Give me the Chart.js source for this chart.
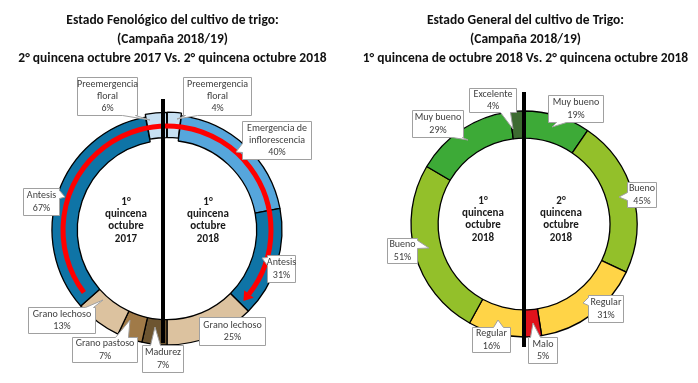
<!DOCTYPE html>
<html>
<head>
<meta charset="utf-8">
<script src="https://cdn.jsdelivr.net/npm/chart.js@4"></script>
<style>
  html, body { margin: 0; padding: 0; background: #fff; }
  body { width: 698px; height: 383px; position: relative; overflow: hidden; }
  canvas { position: absolute; top: 0; }
  .title { position: absolute; top: 10px; width: 349px; text-align: center;
           font-family: Carlito, Lato, "Liberation Sans", sans-serif; font-weight: bold;
           font-size: 13.5px; line-height: 19px; color: #111; z-index: 2; white-space: nowrap; }
</style>
</head>
<body>
<div class="title" id="t1" style="left:-2px"></div>
<div class="title" id="t2" style="left:351px"></div>
<canvas id="c1" width="349" height="383" style="left:0"></canvas>
<canvas id="c2" width="349" height="383" style="left:349px"></canvas>
<script>
// ---------- DATA ----------
const titleFeno = ['Estado Fenológico del cultivo de trigo:', '(Campaña 2018/19)', '2° quincena octubre 2017 Vs. 2° quincena octubre 2018'];
const titleGeneral = ['Estado General del cultivo de Trigo:', '(Campaña 2018/19)', '1° quincena de octubre 2018 Vs. 2° quincena octubre 2018'];

// Phenology – right half (clockwise from top): 2018
const fenoCats2018 = ['Preemergencia floral', 'Emergencia de inflorescencia', 'Antesis', 'Grano lechoso'];
const fenoVals2018 = [4, 40, 31, 25];
// Phenology – left half (clockwise from bottom): 2017
const fenoCats2017 = ['Madurez', 'Grano pastoso', 'Grano lechoso', 'Antesis', 'Preemergencia floral'];
const fenoVals2017 = [7, 7, 13, 67, 6];
const fenoCenterLeft = ['1°', 'quincena', 'octubre', '2017'];
const fenoCenterRight = ['1°', 'quincena', 'octubre', '2018'];

// General state – right half (clockwise from top): 2° quincena
const genCats2q = ['Muy bueno', 'Bueno', 'Regular', 'Malo'];
const genVals2q = [19, 45, 31, 5];
// General state – left half (clockwise from bottom): 1° quincena
const genCats1q = ['Regular', 'Bueno', 'Muy bueno', 'Excelente'];
const genVals1q = [16, 51, 29, 4];
const genCenterLeft = ['1°', 'quincena', 'octubre', '2018'];
const genCenterRight = ['2°', 'quincena', 'octubre', '2018'];

// ---------- STYLE ----------
const fenoColors = {
  'Preemergencia floral': '#c7e0f2', 'Emergencia de inflorescencia': '#56a6dc', 'Antesis': '#0f74a6',
  'Grano lechoso': '#dcc29f', 'Grano pastoso': '#a07a48', 'Madurez': '#6d5531'
};
const genColors = {
  'Excelente': '#3d6b31', 'Muy bueno': '#3daa37', 'Bueno': '#93c02a', 'Regular': '#ffd447', 'Malo': '#e0121b'
};
const labelWrap = {
  'Preemergencia floral': ['Preemergencia', 'floral'],
  'Emergencia de inflorescencia': ['Emergencia de', 'inflorescencia']
};

// Callout layout (relative to ring centre): box [x, y, w, h], wedge side, base span along edge, tip
const fenoCallouts = [
  {box: [16, -153, 68, 38], side: 'b', base: [2, 14], tip: [10, -111]},
  {box: [75, -109, 69, 38], side: 'l', base: [22, 31], tip: [69, -78]},
  {box: [100, 25, 28, 27], side: 'l', base: [2, 10], tip: [95, 28]},
  {box: [32, 87, 66, 28], side: null},
  {box: [-25, 115, 41, 27], side: 't', base: [8, 18], tip: [-12, 97]},
  {box: [-95, 107, 65, 25], side: 't', base: [43, 56], tip: [-37, 90]},
  {box: [-139, 77, 67, 26], side: 't', base: [57, 65], tip: [-64, 70]},
  {box: [-144, -42, 36, 27], side: 'r', base: [2, 10], tip: [-102, -33]},
  {box: [-90, -153, 60, 38], side: 'b', base: [45, 58], tip: [-17, -110]}
];
const genCallouts = [
  {box: [24, -129, 55, 27], side: 'b', base: [8, 18], tip: [28, -97]},
  {box: [103, -42, 29, 25], side: 'l', base: [10, 18], tip: [95, -27]},
  {box: [64, 71, 35, 27], side: 'l', base: [2, 10], tip: [59, 79]},
  {box: [4, 113, 29, 26], side: 't', base: [2, 12], tip: [9, 99]},
  {box: [-52, 103, 38, 25], side: 't', base: [21, 31], tip: [-26, 96]},
  {box: [-137, 14, 30, 25], side: 'r', base: [2, 10], tip: [-95, 24]},
  {box: [-112, -114, 51, 27], side: 'b', base: [40, 50], tip: [-56, -84]},
  {box: [-55, -136, 47, 24], side: 'b', base: [31, 41], tip: [-11, -95]}
];

document.getElementById('t1').innerHTML = titleFeno.join('<br>');
document.getElementById('t2').innerHTML = titleGeneral.join('<br>');

const FONT = 'Carlito, Lato, "Liberation Sans", sans-serif';

function drawCallout(ctx, cx, cy, c, lines) {
  const [bx, by, w, h] = c.box;
  const x = Math.round(cx + bx) + 0.5, y = Math.round(cy + by) + 0.5;
  const pts = [];
  const tip = c.tip ? [cx + c.tip[0], cy + c.tip[1]] : null;
  pts.push([x, y]);
  if (c.side === 't') { pts.push([x + c.base[0], y], tip, [x + c.base[1], y]); }
  pts.push([x + w, y]);
  if (c.side === 'r') { pts.push([x + w, y + c.base[0]], tip, [x + w, y + c.base[1]]); }
  pts.push([x + w, y + h]);
  if (c.side === 'b') { pts.push([x + c.base[1], y + h], tip, [x + c.base[0], y + h]); }
  pts.push([x, y + h]);
  if (c.side === 'l') { pts.push([x, y + c.base[1]], tip, [x, y + c.base[0]]); }
  ctx.save();
  ctx.beginPath();
  pts.forEach((p, i) => i ? ctx.lineTo(p[0], p[1]) : ctx.moveTo(p[0], p[1]));
  ctx.closePath();
  ctx.fillStyle = '#ffffff';
  ctx.fill();
  ctx.lineWidth = 1;
  ctx.strokeStyle = '#a0a0a0';
  ctx.stroke();
  ctx.fillStyle = '#404040';
  ctx.font = '10px ' + FONT;
  ctx.textAlign = 'center';
  ctx.textBaseline = 'middle';
  const lh = 12.3;
  const y0 = y + h / 2 - (lines.length - 1) * lh / 2;
  lines.forEach((t, i) => ctx.fillText(t, x + w / 2, y0 + i * lh));
  ctx.restore();
}

function makeOverlay(cfg) {
  return {
    id: 'overlay',
    afterDatasetsDraw(chart) {
      const ctx = chart.ctx;
      const meta = chart.getDatasetMeta(0);
      const a0 = meta.data[0];
      const cx = a0.x, cy = a0.y;
      const ds = chart.data.datasets[0];
      if (cfg.arrow) {
        const ar = cfg.arrow;
        const toRad = d => (d - 90) * Math.PI / 180;
        ctx.save();
        ctx.strokeStyle = '#ff0000';
        ctx.fillStyle = '#ff0000';
        ctx.lineWidth = ar.width;
        ctx.beginPath();
        ctx.arc(cx, cy, ar.r, toRad(ar.from), toRad(ar.to + 360), false);
        ctx.stroke();
        const ea = toRad(ar.to + 360);
        const px = cx + ar.r * Math.cos(ea), py = cy + ar.r * Math.sin(ea);
        const tx = -Math.sin(ea), ty = Math.cos(ea);
        const nx = Math.cos(ea), ny = Math.sin(ea);
        ctx.beginPath();
        ctx.moveTo(px + tx * ar.head, py + ty * ar.head);
        ctx.lineTo(px + nx * ar.headW, py + ny * ar.headW);
        ctx.lineTo(px - nx * ar.headW, py - ny * ar.headW);
        ctx.closePath();
        ctx.fill();
        ctx.restore();
      }
      meta.data.forEach((arc, i) => {
        const c = cfg.callouts[i];
        const cat = chart.data.labels[i];
        const lines = (labelWrap[cat] || [cat]).concat([ds.data[i] + '%']);
        drawCallout(ctx, cx, cy, c, lines);
      });
      ctx.save();
      ctx.fillStyle = '#1a1a1a';
      ctx.font = 'bold 11px ' + FONT;
      ctx.textAlign = 'center';
      ctx.textBaseline = 'middle';
      cfg.centerLeft.forEach((t, i) => ctx.fillText(t, cx + cfg.cl[0], cy + cfg.cl[1] + i * 12.3));
      cfg.centerRight.forEach((t, i) => ctx.fillText(t, cx + cfg.cr[0], cy + cfg.cr[1] + i * 12.3));
      ctx.restore();
      ctx.save();
      ctx.strokeStyle = '#000';
      ctx.lineWidth = 4;
      ctx.beginPath();
      ctx.moveTo(cx + cfg.line[0], cy + cfg.line[1]);
      ctx.lineTo(cx + cfg.line[0], cy + cfg.line[2]);
      ctx.stroke();
      ctx.restore();
    }
  };
}

function makeChart(id, cats, vals, colors, offsets, radius, cutout, padding, overlayCfg) {
  return new Chart(document.getElementById(id), {
    type: 'doughnut',
    data: {
      labels: cats,
      datasets: [{
        data: vals,
        backgroundColor: cats.map(c => colors[c]),
        borderColor: '#000000',
        borderWidth: 1.3,
        offset: offsets,
        clip: false
      }]
    },
    options: {
      responsive: false,
      animation: false,
      events: [],
      radius: radius,
      cutout: cutout,
      layout: {padding: padding},
      plugins: {legend: {display: false}, tooltip: {enabled: false}, title: {display: false}}
    },
    plugins: [makeOverlay(overlayCfg)]
  });
}

const fenoCats = fenoCats2018.concat(fenoCats2017);
const fenoVals = fenoVals2018.concat(fenoVals2017);
makeChart('c1', fenoCats, fenoVals, fenoColors,
  fenoCats.map(c => c === 'Preemergencia floral' ? 6 : 0),
  115, '78%', {left: 0, right: 15, top: 77, bottom: 0},
  {callouts: fenoCallouts, centerLeft: fenoCenterLeft, centerRight: fenoCenterRight,
   cl: [-41, -28], cr: [41, -28], line: [-4, -131, 113],
   arrow: {r: 104, from: 233, to: 128, width: 5, head: 9, headW: 6}});

const genCats = genCats2q.concat(genCats1q);
const genVals = genVals2q.concat(genVals1q);
makeChart('c2', genCats, genVals, genColors,
  genCats.map(() => 0),
  113, '76%', {left: 1, right: 0, top: 65, bottom: 0},
  {callouts: genCallouts, centerLeft: genCenterLeft, centerRight: genCenterRight,
   cl: [-41, -23], cr: [37, -23], line: [0, -132, 123]});
</script>
</body>
</html>
